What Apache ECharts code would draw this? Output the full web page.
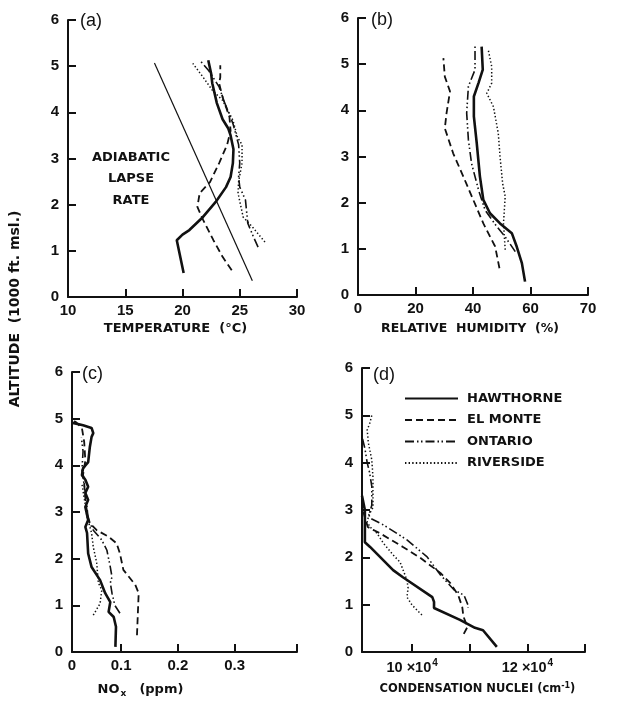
<!DOCTYPE html>
<html><head><meta charset="utf-8">
<script src="https://cdn.jsdelivr.net/npm/echarts@6/dist/echarts.min.js"></script>
<style>html,body{margin:0;padding:0;background:#fff}#c{width:622px;height:708px}</style>
</head><body><div id="c"></div>
<script>
// ---- DATA: [value, altitude (1000 ft msl)] ----
const stations = ['HAWTHORNE', 'EL MONTE', 'ONTARIO', 'RIVERSIDE'];
const altTicks = [0, 1, 2, 3, 4, 5, 6];

// (a) temperature, deg C
const tempHawthorne = [[20.1,0.52],[19.5,1.23],[20.0,1.35],[20.6,1.45],[21.7,1.71],[22.9,2.06],[23.8,2.38],[24.2,2.6],[24.4,2.9],[24.45,3.2],[24.2,3.5],[24.0,3.65],[23.5,3.85],[23.0,4.2],[22.6,4.63],[22.5,4.84],[22.25,5.13]];
const tempElMonte = [[24.3,0.58],[23.5,0.87],[22.7,1.23],[21.8,1.67],[21.3,1.95],[21.5,2.25],[22.4,2.49],[23.2,2.9],[23.9,3.3],[24.2,3.6],[24.1,3.9],[23.5,4.33],[23.2,4.63],[23.3,4.76],[23.3,5.02]];
const tempOntario = [[26.6,1.08],[26.2,1.3],[25.7,1.6],[25.5,2.1],[25.0,2.38],[24.9,2.6],[25.0,2.9],[24.9,3.3],[24.4,3.76],[23.6,4.26],[23.2,4.55],[22.3,4.9],[21.5,5.13]];
const tempRiverside = [[27.2,1.19],[26.1,1.52],[25.3,1.73],[24.85,2.25],[24.9,2.5],[25.2,2.9],[25.2,3.3],[24.8,3.46],[24.4,3.83],[23.5,4.26],[22.6,4.48],[21.8,4.76],[20.9,5.06]];
const adiabaticLine = [[26.1,0.35],[17.55,5.07]];
const tempTicks = [10, 15, 20, 25, 30];

// (b) relative humidity, %
const rhHawthorne = [[58.1,0.29],[57.0,0.69],[55.2,1.05],[53.5,1.34],[49.4,1.55],[45.9,1.77],[43.6,2.06],[42.4,2.57],[41.3,3.29],[40.3,3.87],[40.3,4.30],[41.9,4.59],[43.4,4.88],[43.0,5.38]];
const rhElMonte = [[49.2,0.58],[47.7,1.05],[43.6,1.55],[40.1,2.06],[36.6,2.57],[33.1,3.07],[30.2,3.61],[30.8,3.94],[32.0,4.41],[30.2,4.73],[29.7,5.13]];
const rhOntario = [[54.7,0.94],[51.2,1.26],[48.3,1.48],[44.2,1.84],[41.9,2.28],[39.5,2.85],[38.4,3.36],[37.8,3.94],[38.4,4.52],[40.7,4.88],[40.7,5.38]];
const rhRiverside = [[51.2,0.98],[50.6,1.55],[51.2,2.13],[50.3,2.42],[49.4,3.0],[48.8,3.5],[47.1,4.08],[44.8,4.37],[46.5,4.59],[46.5,4.95],[45.3,5.31]];
const rhTickValues = [0, 20, 40, 60, 80];
const rhTickLabels = ['0', '20', '40', '60', '70'];

// (c) NOx, ppm
const noxHawthorne = [[0.090,0.11],[0.091,0.54],[0.087,0.75],[0.078,0.86],[0.081,1.07],[0.072,1.26],[0.063,1.54],[0.048,1.82],[0.042,2.11],[0.040,2.55],[0.037,2.68],[0.042,2.83],[0.037,3.11],[0.042,3.26],[0.037,3.41],[0.042,3.54],[0.037,3.69],[0.031,3.79],[0.033,3.94],[0.042,4.07],[0.045,4.40],[0.048,4.61],[0.051,4.69],[0.048,4.80],[0.033,4.86],[0.015,4.91]];
const noxElMonte = [[0.128,0.36],[0.131,1.26],[0.125,1.44],[0.104,1.76],[0.098,2.11],[0.092,2.33],[0.078,2.47],[0.057,2.61],[0.045,2.76],[0.040,2.97],[0.037,3.3],[0.035,3.6],[0.033,3.8],[0.037,4.1],[0.035,4.5],[0.031,4.8],[0.020,4.93],[0.012,4.98]];
const noxOntario = [[0.098,0.83],[0.089,1.0],[0.084,1.26],[0.081,1.48],[0.084,1.61],[0.081,1.82],[0.075,2.18],[0.066,2.4],[0.051,2.61],[0.042,2.83],[0.040,3.1],[0.036,3.5],[0.031,3.9],[0.033,4.3],[0.030,4.6]];
const noxRiverside = [[0.051,0.79],[0.063,1.04],[0.066,1.33],[0.060,1.48],[0.057,1.91],[0.051,2.25],[0.048,2.55],[0.040,2.9],[0.035,3.3],[0.031,3.6]];
const noxMin = 0.0135, noxMax = 0.41;
const noxTickValues = [0.1, 0.2, 0.3, 0.41];
const noxLabelValues = [0.0135, 0.1, 0.2, 0.3];
const noxTickLabels = ['0', '0.1', '0.2', '0.3'];

// (d) condensation nuclei, units of 10^4 cm^-1
const cnHawthorne = [[9.13,3.3],[9.18,3.0],[9.18,2.85],[9.18,2.32],[9.27,2.22],[9.67,1.73],[9.84,1.58],[10.35,1.16],[10.38,1.06],[10.38,0.93],[10.83,0.68],[11.09,0.51],[11.23,0.46],[11.47,0.11]];
const cnElMonte = [[9.14,3.2],[9.16,2.93],[9.23,2.64],[9.44,2.51],[9.84,2.22],[10.14,1.99],[10.49,1.67],[10.66,1.46],[10.80,1.20],[10.87,0.95],[10.89,0.75],[10.96,0.53],[10.87,0.32]];
const cnOntario = [[9.14,4.5],[9.18,4.3],[9.22,4.0],[9.26,3.8],[9.3,3.5],[9.3,3.1],[9.25,2.9],[9.27,2.83],[9.51,2.68],[9.91,2.37],[10.26,2.01],[10.49,1.63],[10.73,1.31],[10.9,1.20],[10.97,0.99],[10.97,0.93]];
const cnRiverside = [[10.17,0.78],[10.0,0.99],[9.91,1.16],[9.93,1.35],[9.91,1.52],[9.79,1.90],[9.67,2.05],[9.50,2.30],[9.39,2.51],[9.27,2.64],[9.22,2.75],[9.25,2.9],[9.32,3.05],[9.32,3.36],[9.32,3.70],[9.30,4.06],[9.24,4.42],[9.22,4.69],[9.27,4.85],[9.30,5.0]];
const cnMin = 9.13, cnMax = 13;
const cnTickValues = [10, 11, 12, 13];
const cnLabelValues = [10, 12];

// ---- CHART ----
const FONT = 'Liberation Sans';
const WIDE = 'DejaVu Sans';
const INK = '#111';
const NONE = 'rgba(0,0,0,0)';
const styles = {
  'HAWTHORNE': {width: 2.6, type: 'solid'},
  'EL MONTE': {width: 1.8, type: [7, 4]},
  'ONTARIO': {width: 1.6, type: [9, 3, 1.5, 2.5, 1.5, 3]},
  'RIVERSIDE': {width: 1.5, type: [1.4, 2.2]}
};
function mk(name, data, idx) {
  return {type: 'line', name, data, xAxisIndex: idx, yAxisIndex: idx, symbol: 'none', showSymbol: false,
    smooth: false, animation: false, color: INK, itemStyle: {color: INK},
    lineStyle: Object.assign({color: INK}, styles[name]), z: 3};
}
const panels = [
  [tempHawthorne, tempElMonte, tempOntario, tempRiverside],
  [rhHawthorne, rhElMonte, rhOntario, rhRiverside],
  [noxHawthorne, noxElMonte, noxOntario, noxRiverside],
  [cnHawthorne, cnElMonte, cnOntario, cnRiverside]
];
const series = [];
panels.forEach((p, i) => p.forEach((d, j) => series.push(mk(stations[j], d, i))));
series.push({type: 'line', name: 'adiabatic', data: adiabaticLine, xAxisIndex: 0, yAxisIndex: 0,
  symbol: 'none', animation: false, color: INK, lineStyle: {color: INK, width: 1.2}});

const grids = [
  {left: 68, top: 20, width: 229, height: 277},
  {left: 358, top: 18, width: 230, height: 277},
  {left: 72, top: 372, width: 225, height: 280},
  {left: 362, top: 368, width: 223, height: 284}
];
const axisLine = {show: true, onZero: false, lineStyle: {color: INK, width: 2}};
const tickBase = {show: true, inside: true, length: 8, lineStyle: {color: INK, width: 2}};
const labelBase = {color: INK, fontFamily: FONT, fontWeight: 'bold', fontSize: 15};
const nameStyle = {color: INK, fontFamily: WIDE, fontWeight: 'bold', fontSize: 12.5};

const yAxes = grids.map((g, i) => ({
  type: 'value', gridIndex: i, min: altTicks[0], max: altTicks[altTicks.length - 1], interval: 1,
  axisLine, axisTick: tickBase, splitLine: {show: false},
  axisLabel: Object.assign({margin: 9}, labelBase)
}));

const xAxes = [
  {type: 'value', gridIndex: 0, min: tempTicks[0], max: tempTicks[tempTicks.length - 1], interval: 5, axisLine, axisTick: tickBase,
   splitLine: {show: false}, axisLabel: Object.assign({margin: 6}, labelBase),
   name: 'TEMPERATURE  (°C)', nameLocation: 'middle', nameGap: 25, nameTextStyle: Object.assign({}, nameStyle, {fontSize: 13, padding: [0, 14, 0, 0]})},
  {type: 'value', gridIndex: 1, min: 0, max: 80, axisLine,
   axisTick: Object.assign({customValues: rhTickValues}, tickBase), splitLine: {show: false},
   axisLabel: Object.assign({margin: 6, customValues: rhTickValues,
     formatter: v => rhTickLabels[rhTickValues.indexOf(v)]}, labelBase),
   name: 'RELATIVE  HUMIDITY  (%)', nameLocation: 'middle', nameGap: 27, nameTextStyle: Object.assign({padding: [0, 6, 0, 0]}, nameStyle)},
  {type: 'value', gridIndex: 2, min: noxMin, max: noxMax, axisLine,
   axisTick: Object.assign({customValues: noxTickValues}, tickBase), splitLine: {show: false},
   axisLabel: Object.assign({margin: 6, customValues: noxLabelValues,
     formatter: v => noxTickLabels[noxLabelValues.indexOf(v)]}, labelBase),
   name: '{n|NO}{s|x}   {n|(ppm)}', nameLocation: 'middle', nameGap: 30,
   nameTextStyle: Object.assign({}, nameStyle, {padding: [0, 88, 0, 0], rich: {
     n: {color: INK, fontFamily: WIDE, fontWeight: 'bold', fontSize: 13},
     s: {color: INK, fontFamily: WIDE, fontWeight: 'bold', fontSize: 9, padding: [7, 0, 0, 1]}}})},
  {type: 'value', gridIndex: 3, min: cnMin, max: cnMax, axisLine,
   axisTick: Object.assign({customValues: cnTickValues}, tickBase), splitLine: {show: false},
   axisLabel: Object.assign({}, labelBase, {margin: 6, customValues: cnLabelValues,
     formatter: v => '{n|' + v + ' ×10}{s|4}',
     rich: {n: {color: INK, fontFamily: FONT, fontWeight: 'bold', fontSize: 14.5, padding: [0, 0, 0, 0]},
            s: {color: INK, fontFamily: FONT, fontWeight: 'bold', fontSize: 10, padding: [0, 0, 9, 1]}}}),
   name: '{n|CONDENSATION NUCLEI (cm}{s|-1}{n|)}', nameLocation: 'middle', nameGap: 30,
   nameTextStyle: Object.assign({}, nameStyle, {padding: [0, 0, 0, 8], rich: {
     n: {color: INK, fontFamily: WIDE, fontWeight: 'bold', fontSize: 11.5},
     s: {color: INK, fontFamily: WIDE, fontWeight: 'bold', fontSize: 8, padding: [0, 0, 7, 0]}}})}
];

function txt(x, y, text, size, weight, extra) {
  return Object.assign({type: 'text', x, y, style: {text, fill: INK, font: weight + ' ' + size + 'px "' + FONT + '"',
    textAlign: 'left', textVerticalAlign: 'middle'}}, extra || {});
}
const graphic = [
  txt(80, 21, '(a)', 18, 'normal'),
  txt(371, 20, '(b)', 18, 'normal'),
  txt(82, 374, '(c)', 18, 'normal'),
  txt(373, 375, '(d)', 18, 'normal'),
  {type: 'text', x: 131, y: 179, style: {text: 'ADIABATIC\nLAPSE\nRATE', fill: INK, font: 'bold 13px "' + WIDE + '"',
    textAlign: 'center', textVerticalAlign: 'middle', lineHeight: 21.5}},
  {type: 'text', x: 15, y: 309, rotation: Math.PI / 2, style: {text: 'ALTITUDE  (1000 ft. msl.)', fill: INK,
    font: 'bold 14px "' + WIDE + '"', textAlign: 'center', textVerticalAlign: 'middle'}}
];

const chart = echarts.init(document.getElementById('c'), null, {renderer: 'canvas'});
chart.setOption({
  animation: false,
  backgroundColor: '#fff',
  color: [INK],
  grid: grids,
  xAxis: xAxes,
  yAxis: yAxes,
  legend: {data: stations, orient: 'vertical', left: 399, top: 387, itemWidth: 53, itemHeight: 12, itemGap: 8.5,
    selectedMode: false, itemStyle: {color: NONE, borderColor: NONE, borderWidth: 0},
    lineStyle: {inactiveColor: INK},
    textStyle: {color: INK, fontFamily: WIDE, fontWeight: 'bold', fontSize: 13, padding: [0, 0, 0, 4]}},
  graphic,
  series
});
</script></body></html>
